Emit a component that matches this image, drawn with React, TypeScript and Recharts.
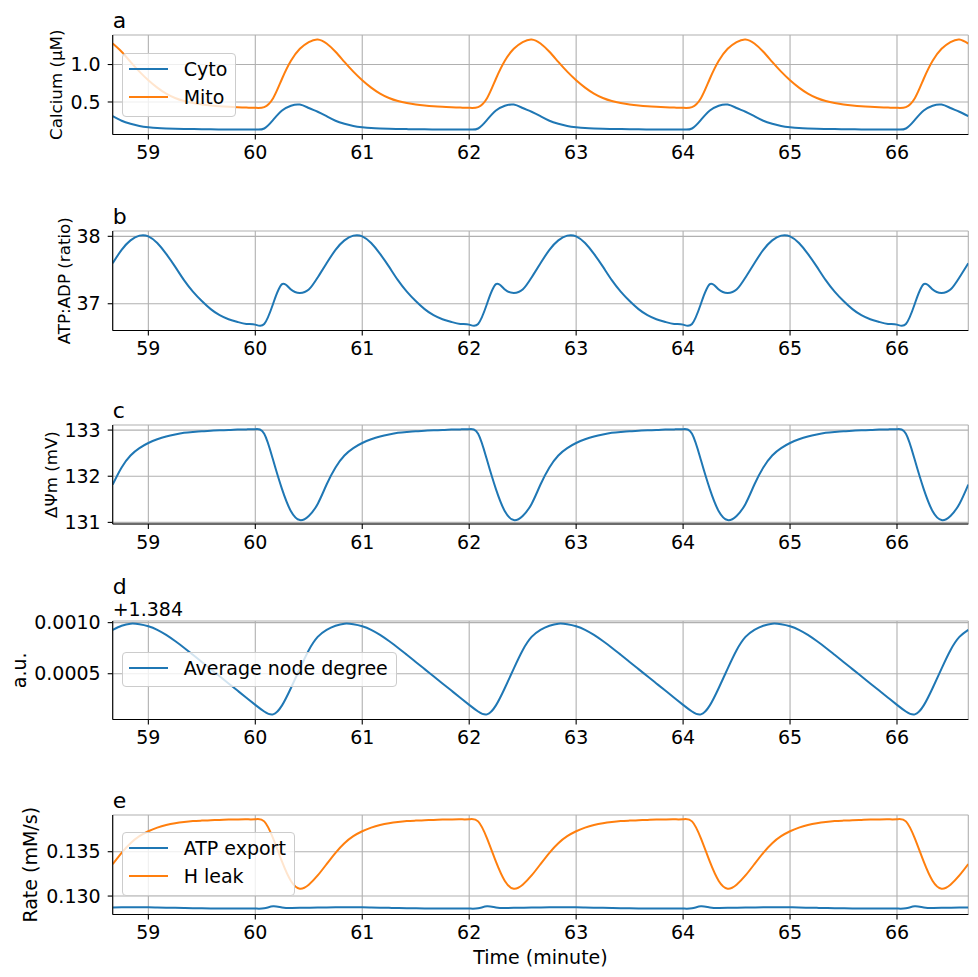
import React from 'react'
import { LineChart, Line, XAxis, YAxis, CartesianGrid, Legend, Label } from 'recharts'

// sample times (seconds), every 5 s
const TIME_S = [
  3520, 3525, 3530, 3535, 3540, 3545, 3550, 3555, 3560, 3565, 3570, 3575,
  3580, 3585, 3590, 3595, 3600, 3605, 3610, 3615, 3620, 3625, 3630, 3635,
  3640, 3645, 3650, 3655, 3660, 3665, 3670, 3675, 3680, 3685, 3690, 3695,
  3700, 3705, 3710, 3715, 3720, 3725, 3730, 3735, 3740, 3745, 3750, 3755,
  3760, 3765, 3770, 3775, 3780, 3785, 3790, 3795, 3800, 3805, 3810, 3815,
  3820, 3825, 3830, 3835, 3840, 3845, 3850, 3855, 3860, 3865, 3870, 3875,
  3880, 3885, 3890, 3895, 3900, 3905, 3910, 3915, 3920, 3925, 3930, 3935,
  3940, 3945, 3950, 3955, 3960, 3965, 3970, 3975, 3980, 3985, 3990, 3995,
  4000,
]

const X_TICKS = [59, 60, 61, 62, 63, 64, 65, 66]

// a: calcium (uM)
const CA_CYTO = [
  0.31, 0.25, 0.21, 0.18, 0.163, 0.152, 0.146, 0.142, 0.14, 0.138, 0.136, 0.135, 0.134, 0.134, 0.133, 0.133, 0.133, 0.146, 0.26, 0.385, 0.45, 0.465, 0.42, 0.37,
  0.31, 0.25, 0.21, 0.18, 0.163, 0.152, 0.146, 0.142, 0.14, 0.138, 0.136, 0.135, 0.134, 0.134, 0.133, 0.133, 0.133, 0.146, 0.26, 0.385, 0.45, 0.465, 0.42, 0.37,
  0.31, 0.25, 0.21, 0.18, 0.163, 0.152, 0.146, 0.142, 0.14, 0.138, 0.136, 0.135, 0.134, 0.134, 0.133, 0.133, 0.133, 0.146, 0.26, 0.385, 0.45, 0.465, 0.42, 0.37,
  0.31, 0.25, 0.21, 0.18, 0.163, 0.152, 0.146, 0.142, 0.14, 0.138, 0.136, 0.135, 0.134, 0.134, 0.133, 0.133, 0.133, 0.146, 0.26, 0.385, 0.45, 0.465, 0.42, 0.37,
  0.31,
]
const CA_MITO = [
  1.28, 1.17, 1.035, 0.905, 0.79, 0.692, 0.612, 0.553, 0.513, 0.486, 0.466, 0.452, 0.442, 0.435, 0.429, 0.425, 0.422, 0.432, 0.55, 0.81, 1.05, 1.21, 1.3, 1.335,
  1.28, 1.17, 1.035, 0.905, 0.79, 0.692, 0.612, 0.553, 0.513, 0.486, 0.466, 0.452, 0.442, 0.435, 0.429, 0.425, 0.422, 0.432, 0.55, 0.81, 1.05, 1.21, 1.3, 1.335,
  1.28, 1.17, 1.035, 0.905, 0.79, 0.692, 0.612, 0.553, 0.513, 0.486, 0.466, 0.452, 0.442, 0.435, 0.429, 0.425, 0.422, 0.432, 0.55, 0.81, 1.05, 1.21, 1.3, 1.335,
  1.28, 1.17, 1.035, 0.905, 0.79, 0.692, 0.612, 0.553, 0.513, 0.486, 0.466, 0.452, 0.442, 0.435, 0.429, 0.425, 0.422, 0.432, 0.55, 0.81, 1.05, 1.21, 1.3, 1.335,
  1.28,
]

// b: ATP:ADP ratio
const ATP_ADP = [
  37.6, 37.8, 37.94, 38.01, 38.0, 37.9, 37.74, 37.55, 37.35, 37.18, 37.04, 36.92, 36.83, 36.77, 36.73, 36.7, 36.69, 36.7, 37.0, 37.29, 37.21, 37.16, 37.21, 37.39,
  37.6, 37.8, 37.94, 38.01, 38.0, 37.9, 37.74, 37.55, 37.35, 37.18, 37.04, 36.92, 36.83, 36.77, 36.73, 36.7, 36.69, 36.7, 37.0, 37.29, 37.21, 37.16, 37.21, 37.39,
  37.6, 37.8, 37.94, 38.01, 38.0, 37.9, 37.74, 37.55, 37.35, 37.18, 37.04, 36.92, 36.83, 36.77, 36.73, 36.7, 36.69, 36.7, 37.0, 37.29, 37.21, 37.16, 37.21, 37.39,
  37.6, 37.8, 37.94, 38.01, 38.0, 37.9, 37.74, 37.55, 37.35, 37.18, 37.04, 36.92, 36.83, 36.77, 36.73, 36.7, 36.69, 36.7, 37.0, 37.29, 37.21, 37.16, 37.21, 37.39,
  37.6,
]

// c: membrane potential (mV)
const PSI_M = [
  131.82, 132.19, 132.45, 132.61, 132.72, 132.8, 132.86, 132.905, 132.94, 132.96, 132.975, 132.985, 132.995, 133.0, 133.01, 133.015, 133.02, 132.92, 132.35, 131.72, 131.24, 131.05, 131.14, 131.4,
  131.82, 132.19, 132.45, 132.61, 132.72, 132.8, 132.86, 132.905, 132.94, 132.96, 132.975, 132.985, 132.995, 133.0, 133.01, 133.015, 133.02, 132.92, 132.35, 131.72, 131.24, 131.05, 131.14, 131.4,
  131.82, 132.19, 132.45, 132.61, 132.72, 132.8, 132.86, 132.905, 132.94, 132.96, 132.975, 132.985, 132.995, 133.0, 133.01, 133.015, 133.02, 132.92, 132.35, 131.72, 131.24, 131.05, 131.14, 131.4,
  131.82, 132.19, 132.45, 132.61, 132.72, 132.8, 132.86, 132.905, 132.94, 132.96, 132.975, 132.985, 132.995, 133.0, 133.01, 133.015, 133.02, 132.92, 132.35, 131.72, 131.24, 131.05, 131.14, 131.4,
  131.82,
]

// d: average node degree
const NODE_DEG = [
  1.38493, 1.38497, 1.38499, 1.384985, 1.384965, 1.38493, 1.38488, 1.38482, 1.384755, 1.384685, 1.384615, 1.384545, 1.384475, 1.384405, 1.384335, 1.384265, 1.384195, 1.38413, 1.384102, 1.38419, 1.38436, 1.38455, 1.38473, 1.38486,
  1.38493, 1.38497, 1.38499, 1.384985, 1.384965, 1.38493, 1.38488, 1.38482, 1.384755, 1.384685, 1.384615, 1.384545, 1.384475, 1.384405, 1.384335, 1.384265, 1.384195, 1.38413, 1.384102, 1.38419, 1.38436, 1.38455, 1.38473, 1.38486,
  1.38493, 1.38497, 1.38499, 1.384985, 1.384965, 1.38493, 1.38488, 1.38482, 1.384755, 1.384685, 1.384615, 1.384545, 1.384475, 1.384405, 1.384335, 1.384265, 1.384195, 1.38413, 1.384102, 1.38419, 1.38436, 1.38455, 1.38473, 1.38486,
  1.38493, 1.38497, 1.38499, 1.384985, 1.384965, 1.38493, 1.38488, 1.38482, 1.384755, 1.384685, 1.384615, 1.384545, 1.384475, 1.384405, 1.384335, 1.384265, 1.384195, 1.38413, 1.384102, 1.38419, 1.38436, 1.38455, 1.38473, 1.38486,
  1.38493,
]
const NODE_OFFSET = 1.384

// e: rates (mM/s)
const ATP_EXPORT = [
  0.12872, 0.12873, 0.12874, 0.12874, 0.12873, 0.12871, 0.12869, 0.12867, 0.12865, 0.12863, 0.12862, 0.12861, 0.1286, 0.1286, 0.12859, 0.12859, 0.12859, 0.12862, 0.12884, 0.12872, 0.12866, 0.12867, 0.12869, 0.12871,
  0.12872, 0.12873, 0.12874, 0.12874, 0.12873, 0.12871, 0.12869, 0.12867, 0.12865, 0.12863, 0.12862, 0.12861, 0.1286, 0.1286, 0.12859, 0.12859, 0.12859, 0.12862, 0.12884, 0.12872, 0.12866, 0.12867, 0.12869, 0.12871,
  0.12872, 0.12873, 0.12874, 0.12874, 0.12873, 0.12871, 0.12869, 0.12867, 0.12865, 0.12863, 0.12862, 0.12861, 0.1286, 0.1286, 0.12859, 0.12859, 0.12859, 0.12862, 0.12884, 0.12872, 0.12866, 0.12867, 0.12869, 0.12871,
  0.12872, 0.12873, 0.12874, 0.12874, 0.12873, 0.12871, 0.12869, 0.12867, 0.12865, 0.12863, 0.12862, 0.12861, 0.1286, 0.1286, 0.12859, 0.12859, 0.12859, 0.12862, 0.12884, 0.12872, 0.12866, 0.12867, 0.12869, 0.12871,
  0.12872,
]
const H_LEAK = [
  0.1336, 0.13488, 0.13596, 0.13675, 0.13731, 0.13772, 0.13801, 0.13821, 0.13835, 0.13845, 0.13851, 0.13856, 0.13859, 0.13862, 0.13864, 0.13865, 0.13866, 0.13842, 0.1365, 0.13387, 0.1317, 0.13083, 0.13128, 0.13232,
  0.1336, 0.13488, 0.13596, 0.13675, 0.13731, 0.13772, 0.13801, 0.13821, 0.13835, 0.13845, 0.13851, 0.13856, 0.13859, 0.13862, 0.13864, 0.13865, 0.13866, 0.13842, 0.1365, 0.13387, 0.1317, 0.13083, 0.13128, 0.13232,
  0.1336, 0.13488, 0.13596, 0.13675, 0.13731, 0.13772, 0.13801, 0.13821, 0.13835, 0.13845, 0.13851, 0.13856, 0.13859, 0.13862, 0.13864, 0.13865, 0.13866, 0.13842, 0.1365, 0.13387, 0.1317, 0.13083, 0.13128, 0.13232,
  0.1336, 0.13488, 0.13596, 0.13675, 0.13731, 0.13772, 0.13801, 0.13821, 0.13835, 0.13845, 0.13851, 0.13856, 0.13859, 0.13862, 0.13864, 0.13865, 0.13866, 0.13842, 0.1365, 0.13387, 0.1317, 0.13083, 0.13128, 0.13232,
  0.1336,
]

const ROWS = TIME_S.map((s, i) => ({
  t: s / 60,
  cyto: CA_CYTO[i],
  mito: CA_MITO[i],
  atpadp: ATP_ADP[i],
  psi: PSI_M[i],
  node: NODE_DEG[i],
  atpExport: ATP_EXPORT[i],
  hLeak: H_LEAK[i],
}))

const FONT = '"DejaVu Sans", sans-serif'
const BLUE = '#1f77b4'
const ORANGE = '#ff7f0e'
const W = 978
const PLOT_LEFT = 112.7
const MARGIN_RIGHT = 9.7
const PLOT_W = W - PLOT_LEFT - MARGIN_RIGHT
const MT = 50
const X_DOMAIN: [number, number] = [3520 / 60, 4000 / 60]

const axisStroke = { stroke: '#000', strokeWidth: 1.1 }
const tickStyle = { fill: '#000', fontSize: 19, fontFamily: FONT }

type SeriesDef = { key: string; name: string; color: string }

type PanelProps = {
  plotTop: number
  plotH: number
  domain: [number, number]
  ticks: number[]
  fmt: (v: number) => string
  series: SeriesDef[]
  title: string
  titleGap: number
  ylabel: string
  ylabelX: number
  ylabelSize: number
  legend?: { top: number; height: number }
  offsetText?: string
  xlabel?: string
}

function LegendBox({ series, height }: { series: SeriesDef[]; height: number }) {
  return (
    <div
      style={{
        boxSizing: 'border-box',
        height,
        border: '1px solid #cccccc',
        borderRadius: 4,
        background: 'rgba(255,255,255,0.8)',
        paddingLeft: 5.6,
        paddingRight: 8,
        paddingTop: 1,
        fontFamily: FONT,
        fontSize: 19,
        color: '#000',
      }}
    >
      {series.map((s) => (
        <div key={s.key} style={{ display: 'flex', alignItems: 'center', height: 28, whiteSpace: 'nowrap' }}>
          <span style={{ display: 'inline-block', width: 38.9, borderTop: `2px solid ${s.color}`, marginRight: 15.8 }} />
          <span style={{ lineHeight: '28px' }}>{s.name}</span>
        </div>
      ))}
    </div>
  )
}

function Panel(p: PanelProps) {
  const xh = p.xlabel ? 70 : 45
  const chartTop = p.plotTop - MT
  const height = MT + p.plotH + xh
  const cy = MT + p.plotH / 2

  const decorations = () => (
    <g>
      <text x={PLOT_LEFT} y={MT - p.titleGap} fontSize={22} fontFamily={FONT} fill="#000">
        {p.title}
      </text>
      {p.offsetText && (
        <text x={PLOT_LEFT} y={MT - 4.7} fontSize={19} fontFamily={FONT} fill="#000">
          {p.offsetText}
        </text>
      )}
      <text
        x={p.ylabelX}
        y={cy}
        transform={`rotate(-90 ${p.ylabelX} ${cy})`}
        textAnchor="middle"
        fontSize={p.ylabelSize}
        fontFamily={FONT}
        fill="#000"
      >
        {p.ylabel}
      </text>
    </g>
  )

  return (
    <div style={{ position: 'absolute', left: 0, top: chartTop }}>
      <LineChart width={W} height={height} data={ROWS} margin={{ top: MT, right: MARGIN_RIGHT, bottom: 0, left: 0 }}>
        <CartesianGrid stroke="#b0b0b0" strokeWidth={1.1} />
        <XAxis
          dataKey="t"
          type="number"
          domain={X_DOMAIN}
          ticks={X_TICKS}
          interval={0}
          allowDataOverflow
          height={xh}
          tickSize={5}
          tickMargin={6.5}
          tick={tickStyle}
          tickLine={axisStroke}
          axisLine={axisStroke}
        >
          {p.xlabel && (
            <Label
              content={() => (
                <text
                  x={PLOT_LEFT + PLOT_W / 2}
                  y={MT + p.plotH + 49.7}
                  textAnchor="middle"
                  fontSize={19}
                  fontFamily={FONT}
                  fill="#000"
                >
                  {p.xlabel}
                </text>
              )}
            />
          )}
        </XAxis>
        <XAxis
          xAxisId="top"
          orientation="top"
          dataKey="t"
          type="number"
          domain={X_DOMAIN}
          allowDataOverflow
          height={0}
          tick={false}
          tickLine={false}
          axisLine={axisStroke}
        />
        <YAxis
          domain={p.domain}
          ticks={p.ticks}
          interval={0}
          allowDataOverflow
          width={PLOT_LEFT}
          tickFormatter={p.fmt}
          tickSize={5}
          tickMargin={7}
          tick={tickStyle}
          tickLine={axisStroke}
          axisLine={axisStroke}
        >
          <Label content={decorations} />
        </YAxis>
        <YAxis
          yAxisId="right"
          orientation="right"
          width={0}
          domain={[0, 1]}
          tick={false}
          tickLine={false}
          axisLine={axisStroke}
        />
        {p.series.map((s) => (
          <Line
            key={s.key}
            type="natural"
            dataKey={s.key}
            name={s.name}
            stroke={s.color}
            strokeWidth={2}
            dot={false}
            activeDot={false}
            isAnimationActive={false}
          />
        ))}
        {p.legend && (
          <Legend
            layout="vertical"
            align="center"
            verticalAlign="middle"
            wrapperStyle={{ left: 122.4, top: p.legend.top - chartTop, width: 'auto', height: 'auto' }}
            content={() => <LegendBox series={p.series} height={p.legend!.height} />}
          />
        )}
      </LineChart>
    </div>
  )
}

export default function App() {
  return (
    <div style={{ position: 'absolute', left: 0, top: 0, width: 978, height: 977, background: '#fff', fontFamily: FONT }}>
      <Panel
        plotTop={35}
        plotH={99.5}
        domain={[0.066, 1.394]}
        ticks={[0.5, 1.0]}
        fmt={(v) => v.toFixed(1)}
        series={[
          { key: 'cyto', name: 'Cyto', color: BLUE },
          { key: 'mito', name: 'Mito', color: ORANGE },
        ]}
        title="a"
        titleGap={6.7}
        ylabel="Calcium (μM)"
        ylabelX={62}
        ylabelSize={16.7}
        legend={{ top: 53.3, height: 63.4 }}
      />
      <Panel
        plotTop={230.5}
        plotH={99.5}
        domain={[36.603, 38.079]}
        ticks={[37, 38]}
        fmt={(v) => String(v)}
        series={[{ key: 'atpadp', name: 'ATP:ADP', color: BLUE }]}
        title="b"
        titleGap={6.7}
        ylabel="ATP:ADP (ratio)"
        ylabelX={70.2}
        ylabelSize={16.7}
      />
      <Panel
        plotTop={425}
        plotH={99}
        domain={[130.965, 133.11]}
        ticks={[131, 132, 133]}
        fmt={(v) => String(v)}
        series={[{ key: 'psi', name: 'ΔΨm', color: BLUE }]}
        title="c"
        titleGap={6.7}
        ylabel="ΔΨm (mV)"
        ylabelX={57.2}
        ylabelSize={16.7}
      />
      <Panel
        plotTop={620.5}
        plotH={98.5}
        domain={[NODE_OFFSET + 0.000052, NODE_OFFSET + 0.001016]}
        ticks={[NODE_OFFSET + 0.0005, NODE_OFFSET + 0.001]}
        fmt={(v) => (v - NODE_OFFSET).toFixed(4)}
        series={[{ key: 'node', name: 'Average node degree', color: BLUE }]}
        title="d"
        titleGap={27.5}
        ylabel="a.u."
        ylabelX={26}
        ylabelSize={19}
        legend={{ top: 651.7, height: 35.6 }}
        offsetText="+1.384"
      />
      <Panel
        plotTop={814.5}
        plotH={99.5}
        domain={[0.12792, 0.13914]}
        ticks={[0.13, 0.135]}
        fmt={(v) => v.toFixed(3)}
        series={[
          { key: 'atpExport', name: 'ATP export', color: BLUE },
          { key: 'hLeak', name: 'H leak', color: ORANGE },
        ]}
        title="e"
        titleGap={6.7}
        ylabel="Rate (mM/s)"
        ylabelX={36.5}
        ylabelSize={19}
        legend={{ top: 832.3, height: 63.7 }}
        xlabel="Time (minute)"
      />
    </div>
  )
}
